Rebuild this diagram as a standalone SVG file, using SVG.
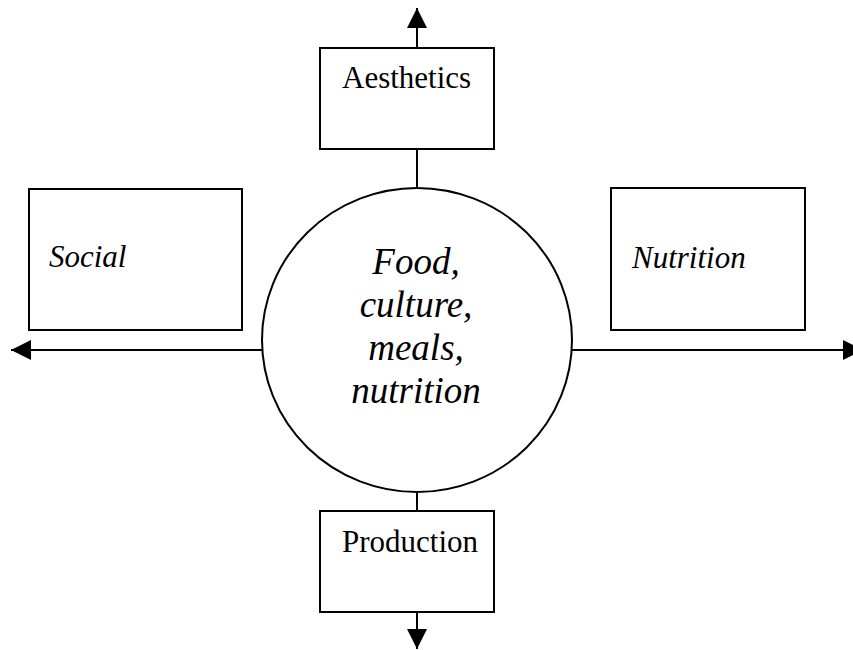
<svg xmlns="http://www.w3.org/2000/svg" width="853" height="650" viewBox="0 0 853 650">
<style>
.box{fill:#fff;stroke:#000;stroke-width:2}
.ln{stroke:#000;stroke-width:2;fill:none}
.t{font-family:"Liberation Serif","Times New Roman",serif;font-size:31px;fill:#000}
.it{font-style:italic}
.c{font-family:"Liberation Serif","Times New Roman",serif;font-size:37px;font-style:italic;fill:#000;text-anchor:middle}
</style>
<defs>
<marker id="ah" viewBox="0 0 20 20" refX="20" refY="10" markerWidth="20" markerHeight="20" markerUnits="userSpaceOnUse" orient="auto">
<path d="M0,0 L20,10 L0,20 z" fill="#000"/>
</marker>
</defs>
<rect width="853" height="650" fill="#fff"/>
<g id="connectors">
<line class="ln" x1="417" y1="188" x2="417" y2="149"/>
<line class="ln" x1="417" y1="48" x2="417" y2="8" marker-end="url(#ah)"/>
<line class="ln" x1="417" y1="492" x2="417" y2="511"/>
<line class="ln" x1="417" y1="612" x2="417" y2="649" marker-end="url(#ah)"/>
<line class="ln" x1="262" y1="350" x2="11" y2="350" marker-end="url(#ah)"/>
<line class="ln" x1="572" y1="350" x2="863" y2="350" marker-end="url(#ah)"/>
</g>
<g id="aesthetics">
<rect class="box" x="320" y="48" width="174" height="101"/>
<text class="t" x="342" y="88">Aesthetics</text>
</g>
<g id="social">
<rect class="box" x="29" y="189" width="213" height="141"/>
<text class="t it" x="49" y="267">Social</text>
</g>
<g id="nutrition">
<rect class="box" x="611" y="188" width="194" height="142"/>
<text class="t it" x="632" y="268">Nutrition</text>
</g>
<g id="production">
<rect class="box" x="320" y="511" width="174" height="101"/>
<text class="t" x="342" y="552">Production</text>
</g>
<g id="center">
<ellipse class="box" cx="417" cy="340" rx="155" ry="152"/>
<text class="c" x="416" y="274">Food,</text>
<text class="c" x="416" y="317">culture,</text>
<text class="c" x="416" y="360">meals,</text>
<text class="c" x="416" y="403">nutrition</text>
</g>
</svg>
